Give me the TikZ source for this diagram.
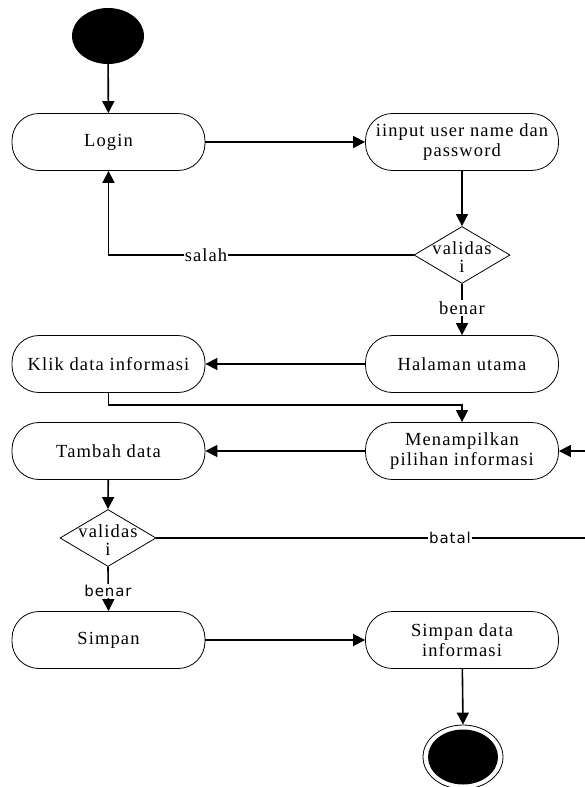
\documentclass[tikz,border=0pt]{standalone}
\usepackage{fontspec}
\setmainfont{Liberation Serif}[LetterSpace=6]
\newfontfamily\sanslbl{DejaVu Sans}[LetterSpace=6]
\usetikzlibrary{arrows.meta,shapes.geometric}
\begin{document}
\begin{tikzpicture}[x=1pt,y=-1pt,
  act/.style={draw,line width=0.8pt,rounded corners=27pt,minimum width=193pt,minimum height=57pt,
    align=center,font=\fontsize{18.5}{20}\selectfont,inner sep=0pt},
  dec/.style={draw,line width=0.8pt,diamond,minimum width=96pt,minimum height=57pt,inner sep=0pt},
  conn/.style={line width=1.6pt,-{Triangle[length=12pt,width=12pt]}},
  lblserif/.style={fill=white,inner sep=1pt,font=\fontsize{18.5}{20}\selectfont},
  lblsans/.style={fill=white,inner sep=1pt,font=\sanslbl\fontsize{15}{16}\selectfont},
  dectext/.style={font=\fontsize{18.5}{18}\selectfont,align=center,inner sep=0pt}
]
\useasboundingbox (0,0) rectangle (584,787);
\node[fill=black,ellipse,minimum width=72pt,minimum height=56pt,inner sep=0pt] (start) at (108,36) {};
\node[act] (login) at (108.5,142) {Login};
\node[act] (input) at (462,142) {iinput user name dan\\password};
\node[dec] (d1) at (462,255) {};
\node[dectext] (d1t) at (462,257) {validas\\i};
\node[act] (halaman) at (462,364) {Halaman utama};
\node[act] (klik) at (108.5,364) {Klik data informasi};
\node[act] (menu) at (462,451) {Menampilkan\\pilihan informasi};
\node[act] (tambah) at (108.5,451) {Tambah data};
\node[dec] (d2) at (108,538) {};
\node[dectext] (d2t) at (108,540) {validas\\i};
\node[act] (simpan) at (108.5,640) {Simpan};
\node[act] (simpandata) at (462,640) {Simpan data\\informasi};
\node[draw,line width=0.8pt,ellipse,minimum width=80pt,minimum height=64pt,inner sep=0pt] (end) at (463,757) {};
\node[fill=black,ellipse,minimum width=70pt,minimum height=55pt,inner sep=0pt] (endin) at (463,757) {};

\coordinate (c1) at (108.5,255);
\coordinate (c2) at (108.5,405);
\coordinate (c3) at (620,538);

\draw[conn] (start) -- (login);
\draw[conn] (login) -- (input);
\draw[conn] (input) -- (d1);
\draw[conn] (d1.west) -- (c1) -- (login.south);
\node[lblserif] (salah) at (206,255) {salah};
\draw[conn] (d1.south) -- (halaman.north);
\node[lblserif] (benar1) at (462,308) {benar};
\draw[conn] (halaman) -- (klik);
\draw[conn] (klik.south) -- (c2) -| (menu.north);
\draw[conn] (menu) -- (tambah);
\draw[conn] (tambah) -- (d2.north);
\draw[conn] (d2.east) -- (c3) |- (menu.east);
\node[lblsans] (batal) at (450,538) {batal};
\draw[conn] (d2.south) -- (simpan.north);
\node[lblsans] (benar2) at (108,591) {benar};
\draw[conn] (simpan) -- (simpandata);
\draw[conn] (simpandata) -- (end.north);
\end{tikzpicture}
\end{document}
